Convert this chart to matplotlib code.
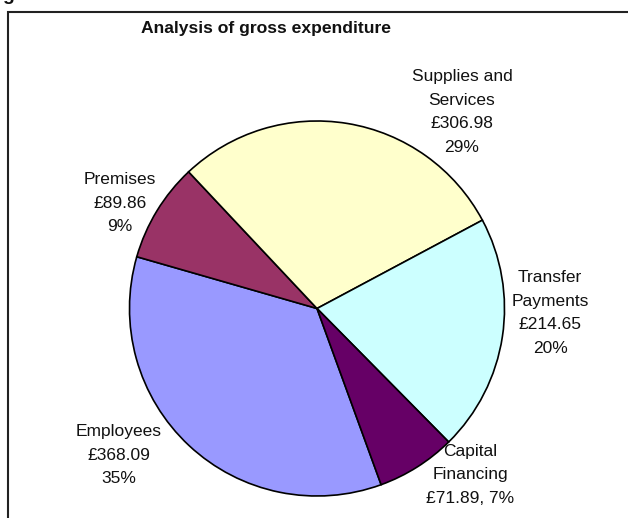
import matplotlib
matplotlib.use('Agg')
import matplotlib.pyplot as plt
from matplotlib.patches import Rectangle

# gross expenditure by category (£)
categories = ['Employees', 'Premises', 'Supplies and\nServices', 'Transfer\nPayments', 'Capital\nFinancing']
values = [368.09, 89.86, 306.98, 214.65, 71.89]
colors = ['#9999FF', '#993366', '#FFFFCC', '#CCFFFF', '#660066']

W, H = 628, 518
plt.rcParams['font.family'] = ['Liberation Sans', 'DejaVu Sans']

fig = plt.figure(figsize=(W / 100, H / 100), dpi=100)
ax = fig.add_axes([0, 0, 1, 1])

total = sum(values)
ax.pie(values, colors=colors, startangle=-70, counterclock=False,
       center=(317, H - 308.5), radius=187.5, frame=True,
       wedgeprops=dict(edgecolor='black', linewidth=1.2))
ax.set_xlim(0, W)
ax.set_ylim(0, H)
ax.set_aspect('equal', adjustable='datalim')
ax.axis('off')

# label blocks, centre of each block in pixels from top-left
label_pos = [(119, 455), (120, 203), (462, 112), (550, 313), (470, 475)]
for name, v, (x, y) in zip(categories, values, label_pos):
    pct = round(100 * v / total)
    if name.startswith('Capital'):
        txt = f"{name}\n£{v:.2f}, {pct}%"
    else:
        txt = f"{name}\n£{v:.2f}\n{pct}%"
    ax.text(x, H - y, txt, ha='center', va='center', fontsize=12.5,
            linespacing=1.72, color='#111111')

# chart area border (runs off the right and bottom)
fig.patches.append(Rectangle((8 / W, -0.1), 1.1, (H - 12) / H + 0.1,
                             transform=fig.transFigure, fill=False,
                             edgecolor='#222222', linewidth=1.5))

fig.text(266 / W, 1 - 28 / H, 'Analysis of gross expenditure', ha='center', va='center',
         fontsize=12.6, fontweight='bold', color='#111111')
fig.text(2 / W, 1 + 4 / H, 'g', ha='left', va='center', fontsize=14,
         fontweight='bold', color='#111111')

fig.savefig('out.png', dpi=100)
